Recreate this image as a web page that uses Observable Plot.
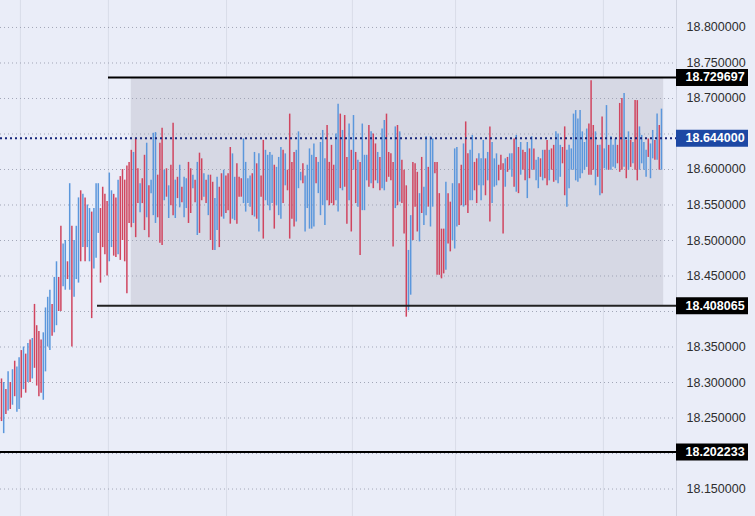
<!DOCTYPE html>
<html>
<head>
<meta charset="utf-8">
<script src="https://cdn.jsdelivr.net/npm/d3@7"></script>
<script src="https://cdn.jsdelivr.net/npm/@observablehq/plot@0.6"></script>
<style>
  html, body { margin: 0; padding: 0; background: #eaedf8; }
  #chart svg { display: block; }
</style>
</head>
<body>
<div id="chart"></div>
<script>
// ---- data ----
const highs = [
  18.305,18.300,18.290,18.315,18.300,18.318,18.330,18.322,18.335,18.345,
  18.350,18.340,18.355,18.360,18.362,18.410,18.380,18.372,18.360,18.370,
  18.405,18.420,18.430,18.410,18.448,18.470,18.448,18.520,18.495,18.500,
  18.470,18.580,18.520,18.500,18.520,18.560,18.570,18.565,18.560,18.550,
  18.545,18.540,18.545,18.580,18.580,18.545,18.575,18.565,18.555,18.595,
  18.570,18.565,18.560,18.585,18.590,18.600,18.585,18.605,18.610,18.627,
  18.624,18.644,18.601,18.580,18.587,18.620,18.637,18.577,18.585,18.651,
  18.652,18.592,18.637,18.658,18.599,18.601,18.577,18.606,18.665,18.585,
  18.589,18.606,18.575,18.589,18.587,18.610,18.601,18.592,18.585,18.610,
  18.623,18.615,18.594,18.585,18.592,18.592,18.582,18.559,18.589,18.575,
  18.594,18.599,18.591,18.594,18.631,18.622,18.589,18.608,18.589,18.587,
  18.643,18.610,18.587,18.591,18.594,18.624,18.608,18.622,18.591,18.641,
  18.627,18.620,18.624,18.620,18.606,18.603,18.617,18.631,18.627,18.622,
  18.599,18.678,18.610,18.624,18.627,18.653,18.596,18.608,18.591,18.606,
  18.629,18.620,18.636,18.617,18.610,18.638,18.655,18.615,18.662,18.610,
  18.634,18.606,18.650,18.692,18.678,18.655,18.676,18.617,18.664,18.627,
  18.676,18.624,18.613,18.610,18.664,18.620,18.620,18.662,18.653,18.650,
  18.636,18.624,18.617,18.657,18.669,18.678,18.624,18.622,18.610,18.660,
  18.662,18.653,18.613,18.599,18.577,18.486,18.535,18.610,18.608,18.596,
  18.566,18.617,18.575,18.646,18.603,18.646,18.643,18.610,18.610,18.566,
  18.516,18.516,18.582,18.566,18.554,18.580,18.629,18.631,18.580,18.606,
  18.636,18.667,18.622,18.627,18.648,18.610,18.615,18.622,18.615,18.641,
  18.615,18.624,18.660,18.638,18.615,18.622,18.606,18.620,18.608,18.615,
  18.617,18.622,18.622,18.643,18.648,18.631,18.638,18.627,18.624,18.638,
  18.629,18.646,18.629,18.613,18.617,18.615,18.627,18.627,18.641,18.627,
  18.629,18.634,18.653,18.650,18.634,18.631,18.660,18.627,18.634,18.629,
  18.678,18.683,18.671,18.683,18.653,18.638,18.657,18.664,18.725,18.662,
  18.653,18.634,18.634,18.674,18.629,18.690,18.634,18.646,18.634,18.643,
  18.634,18.693,18.700,18.707,18.641,18.653,18.641,18.638,18.697,18.697,
  18.660,18.648,18.638,18.627,18.643,18.636,18.655,18.641,18.678,18.662,18.685
];
const lows = [
  18.245,18.228,18.255,18.260,18.262,18.268,18.280,18.258,18.262,18.278,
  18.290,18.285,18.300,18.300,18.305,18.320,18.295,18.280,18.285,18.275,
  18.315,18.350,18.345,18.365,18.370,18.380,18.400,18.400,18.435,18.430,
  18.445,18.430,18.350,18.420,18.445,18.440,18.470,18.490,18.470,18.490,
  18.470,18.390,18.460,18.475,18.510,18.440,18.490,18.480,18.450,18.470,
  18.490,18.478,18.476,18.480,18.472,18.500,18.470,18.425,18.524,18.518,
  18.524,18.504,18.552,18.539,18.552,18.514,18.532,18.504,18.566,18.535,
  18.524,18.532,18.496,18.493,18.556,18.561,18.531,18.549,18.535,18.531,
  18.559,18.546,18.553,18.532,18.545,18.524,18.538,18.573,18.553,18.507,
  18.510,18.556,18.561,18.552,18.535,18.500,18.486,18.486,18.514,18.490,
  18.533,18.530,18.538,18.542,18.523,18.530,18.528,18.523,18.561,18.561,
  18.552,18.540,18.552,18.547,18.535,18.533,18.530,18.512,18.561,18.502,
  18.556,18.549,18.542,18.552,18.516,18.549,18.535,18.530,18.552,18.577,
  18.570,18.502,18.530,18.519,18.526,18.573,18.584,18.580,18.512,18.545,
  18.516,18.516,18.519,18.580,18.566,18.535,18.549,18.521,18.556,18.549,
  18.552,18.549,18.556,18.540,18.573,18.570,18.575,18.523,18.556,18.512,
  18.599,18.552,18.547,18.479,18.542,18.542,18.584,18.575,18.580,18.573,
  18.584,18.580,18.570,18.573,18.570,18.582,18.589,18.584,18.491,18.545,
  18.549,18.554,18.552,18.509,18.392,18.401,18.423,18.500,18.547,18.512,
  18.498,18.538,18.521,18.535,18.547,18.519,18.547,18.594,18.451,18.451,
  18.446,18.453,18.458,18.495,18.484,18.500,18.488,18.519,18.521,18.549,
  18.547,18.549,18.538,18.556,18.556,18.570,18.552,18.577,18.556,18.577,
  18.563,18.584,18.526,18.552,18.575,18.577,18.584,18.599,18.509,18.575,
  18.596,18.599,18.589,18.575,18.568,18.566,18.592,18.599,18.584,18.559,
  18.587,18.599,18.599,18.584,18.573,18.589,18.584,18.587,18.577,18.584,
  18.599,18.582,18.584,18.580,18.589,18.608,18.563,18.547,18.573,18.599,
  18.599,18.584,18.582,18.587,18.594,18.599,18.603,18.592,18.592,18.599,
  18.577,18.589,18.563,18.566,18.601,18.599,18.599,18.599,18.603,18.601,
  18.608,18.596,18.599,18.603,18.587,18.599,18.603,18.608,18.599,18.584,
  18.599,18.608,18.599,18.589,18.617,18.587,18.615,18.613,18.613,18.599,18.599
];
// u = up bar (blue), d = down bar (red), groups of ten
const directions = "dudududuud udududdddu uuuduudduu duduuududu uduuuddddu " +
  "uddudddddd uddudduduu udddududdu duduuddudu ddududduud " +
  "duddduuddd uuuudududd uuuuduuudu dddduuuduu uuuduuuudd " +
  "dduududdud ududuuudud duduuddddu duddduuddd uduuduuddd " +
  "ddudduuudd udduudduuu duduuudddu duudududdu duduududdu " +
  "dduuudduuu uuuuuuuddd ududuuduuu dddudududd uuuuduududu";

const yTicks = [18.15,18.2,18.25,18.3,18.35,18.4,18.45,18.5,18.55,18.6,18.65,18.7,18.75,18.8];
const levelLabels = [18.729697, 18.408065, 18.202233];
const currentPrice = 18.644000;
const boxLow = 18.408065, boxHigh = 18.729697;
const periodBreaks = [8.6, 48.6, 102.3, 159.5, 206.4, 273.6]; // bar index of vertical grid lines

// ---- build ----
const dirs = directions.replace(/\s+/g, "").split("");
const bars = highs.map((h, i) => ({i, high: h, low: lows[i], up: (dirs[i] || "u") === "u"}));

const W = 755, H = 516, MR = 79;
const step = 2.2;
const xMin = -0.45, xMax = (W - MR) / step + xMin;   // plot edge in bar units
const pxToBar = px => px / step + xMin;
const fmt = d3.format(".6f");
const FONT = "Liberation Sans, Arial, sans-serif";
const allLabels = levelLabels.concat([currentPrice]);
// tick labels that sit under a price box are covered in the reference
const visibleTicks = yTicks.filter(t => allLabels.every(v => Math.abs(t - v) > 0.012));

const chart = Plot.plot({
  width: W, height: H,
  marginLeft: 0, marginRight: MR, marginTop: 0, marginBottom: 0,
  style: {background: "#eaedf8", fontFamily: FONT, fontSize: "12.5px", overflow: "visible"},
  x: {domain: [xMin, xMax], axis: null},
  y: {domain: [18.1113, 18.838]},
  marks: [
    Plot.ruleX(periodBreaks, {stroke: "#d9dce8", strokeWidth: 1}),
    Plot.rect([0], {x1: 59, x2: 301, y1: boxLow, y2: boxHigh, fill: "#d6d8e4"}),
    Plot.gridY(yTicks, {stroke: "#9a9eb0", strokeOpacity: 0.9, strokeDasharray: "1,3"}),
    Plot.ruleX([xMax], {stroke: "#cfd3e0", strokeWidth: 1}),
    Plot.axisY(visibleTicks, {anchor: "right", tickSize: 0, tickPadding: 10, tickFormat: fmt,
      label: null, fill: "#2e2e2e", fontSize: 12.5}),
    // OHLC range bars
    Plot.ruleX(bars, {x: "i", y1: "low", y2: "high",
      stroke: d => d.up ? "#5b97dc" : "#d0455f", strokeWidth: 1.5}),
    // horizontal level lines
    Plot.ruleY([boxHigh], {x1: pxToBar(108), x2: xMax, stroke: "#000", strokeWidth: 2}),
    Plot.ruleY([boxLow], {x1: pxToBar(97), x2: xMax, stroke: "#222", strokeWidth: 2}),
    Plot.ruleY([18.202233], {x1: xMin, x2: xMax, stroke: "#000", strokeWidth: 2}),
    Plot.ruleY([currentPrice], {x1: xMin, x2: xMax, stroke: "#15237a", strokeWidth: 2, strokeDasharray: "2,3"}),
    // price label boxes on the right axis
    Plot.ruleY(levelLabels, {x1: xMax, x2: pxToBar(748), stroke: "#000", strokeWidth: 17}),
    Plot.ruleY([currentPrice], {x1: xMax, x2: pxToBar(748), stroke: "#1d48a4", strokeWidth: 17}),
    Plot.text(allLabels, {x: xMax, y: d => d, text: d => fmt(d), dx: 9,
      textAnchor: "start", fill: "#fff", fontWeight: "bold", fontSize: 12.5})
  ]
});
document.getElementById("chart").appendChild(chart);
</script>
</body>
</html>
